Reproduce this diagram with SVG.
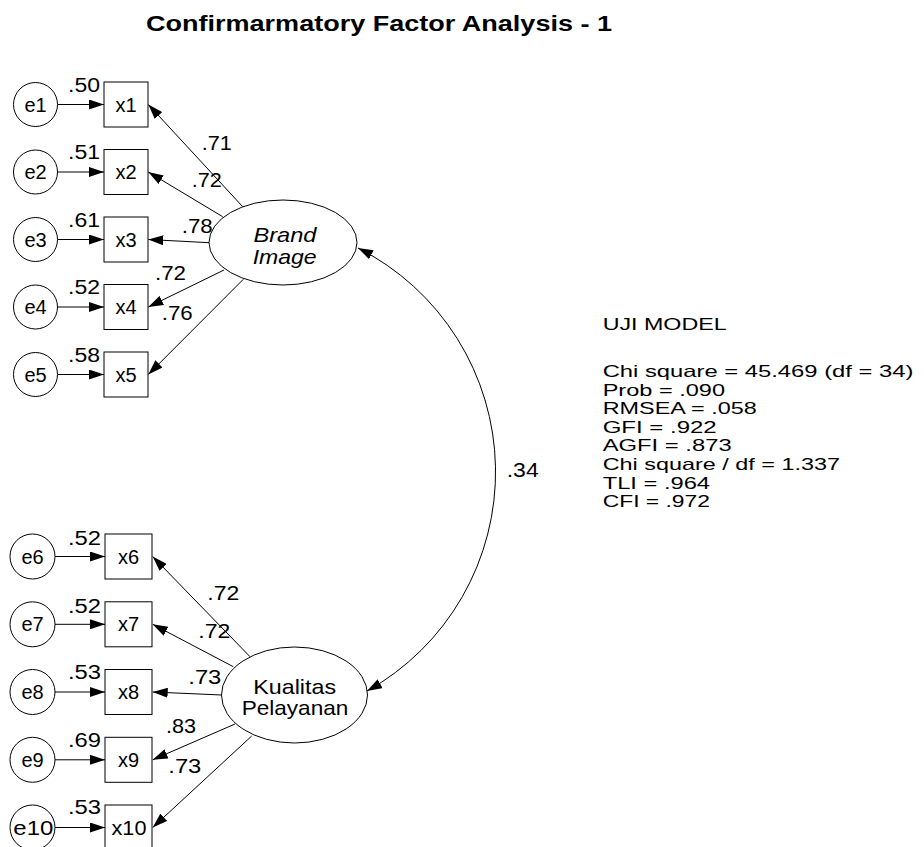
<svg xmlns="http://www.w3.org/2000/svg" width="924" height="847" viewBox="0 0 924 847">
<style>
  text { font-family: "Liberation Sans", Arial, sans-serif; font-size: 20px; fill: #000; }
  .title { font-weight: bold; font-size: 22px; }
  .c { text-anchor: middle; }
  .it { font-style: italic; }
  .lat { font-size: 21px; }
  .st { font-size: 16.5px; }
  .node { fill: #fff; stroke: #000; stroke-width: 1; }
  .edge { fill: none; stroke: #000; stroke-width: 1; marker-end: url(#ah); }
  .cov { fill: none; stroke: #000; stroke-width: 1; marker-start: url(#ah); marker-end: url(#ah); }
</style>
<defs>
  <marker id="ah" viewBox="0 0 15 10" refX="15" refY="5" markerWidth="15" markerHeight="10" markerUnits="userSpaceOnUse" orient="auto-start-reverse">
    <path d="M0,0 L15,5 L0,10 z" fill="#000"/>
  </marker>
</defs>
<rect width="924" height="847" fill="#fff"/>

<text class="title" x="146" y="31" textLength="466" lengthAdjust="spacingAndGlyphs">Confirmarmatory Factor Analysis - 1</text>

<g id="connectors">
  <path class="edge" d="M57.5,104.5 L104,104.5"/>
  <path class="edge" d="M57.5,172 L104,172"/>
  <path class="edge" d="M57.5,239.5 L104,239.5"/>
  <path class="edge" d="M57.5,307 L104,307"/>
  <path class="edge" d="M57.5,374.5 L104,374.5"/>
  <path class="edge" d="M55,556.5 L105,556.5"/>
  <path class="edge" d="M55,624.3 L105,624.3"/>
  <path class="edge" d="M55,692 L105,692"/>
  <path class="edge" d="M55,759.8 L105,759.8"/>
  <path class="edge" d="M55,827.5 L105,827.5"/>
  <path class="edge" d="M242.7,206.7 L148.3,104.5"/>
  <path class="edge" d="M222.7,216.7 L148.3,172"/>
  <path class="edge" d="M209.3,242.7 L148.3,239.5"/>
  <path class="edge" d="M224,270 L148.3,307"/>
  <path class="edge" d="M243.3,279.3 L148.3,374.5"/>
  <path class="edge" d="M250,656.7 L152.7,556.5"/>
  <path class="edge" d="M233.3,666.7 L152.7,624.3"/>
  <path class="edge" d="M221.7,695 L152.7,692"/>
  <path class="edge" d="M235,724 L152.7,759.8"/>
  <path class="edge" d="M251.7,736 L152.7,827.5"/>
  <path class="cov" d="M358,248 A251 251 0 0 1 367,691"/>
  <text x="68" y="91.7" textLength="32" lengthAdjust="spacingAndGlyphs">.50</text>
  <text x="68" y="159.2" textLength="32" lengthAdjust="spacingAndGlyphs">.51</text>
  <text x="68" y="226.7" textLength="32" lengthAdjust="spacingAndGlyphs">.61</text>
  <text x="68" y="294.2" textLength="32" lengthAdjust="spacingAndGlyphs">.52</text>
  <text x="68" y="361.7" textLength="32" lengthAdjust="spacingAndGlyphs">.58</text>
  <text x="68" y="545" textLength="33" lengthAdjust="spacingAndGlyphs">.52</text>
  <text x="68" y="612.7" textLength="33" lengthAdjust="spacingAndGlyphs">.52</text>
  <text x="68" y="679.3" textLength="33" lengthAdjust="spacingAndGlyphs">.53</text>
  <text x="68" y="746.7" textLength="33" lengthAdjust="spacingAndGlyphs">.69</text>
  <text x="68" y="814" textLength="33" lengthAdjust="spacingAndGlyphs">.53</text>
  <text x="201.7" y="150" textLength="30" lengthAdjust="spacingAndGlyphs">.71</text>
  <text x="191.7" y="186.7" textLength="30" lengthAdjust="spacingAndGlyphs">.72</text>
  <text x="181.7" y="232.7" textLength="31" lengthAdjust="spacingAndGlyphs">.78</text>
  <text x="155" y="280" textLength="31" lengthAdjust="spacingAndGlyphs">.72</text>
  <text x="161.7" y="320" textLength="31" lengthAdjust="spacingAndGlyphs">.76</text>
  <text x="207.3" y="600" textLength="32" lengthAdjust="spacingAndGlyphs">.72</text>
  <text x="198.3" y="638.3" textLength="32" lengthAdjust="spacingAndGlyphs">.72</text>
  <text x="188.3" y="684" textLength="33" lengthAdjust="spacingAndGlyphs">.73</text>
  <text x="166" y="733.3" textLength="30" lengthAdjust="spacingAndGlyphs">.83</text>
  <text x="168.3" y="773.3" textLength="33" lengthAdjust="spacingAndGlyphs">.73</text>
  <text x="506.7" y="476.5" textLength="32" lengthAdjust="spacingAndGlyphs">.34</text>
</g>

<g id="e1"><circle class="node" cx="35.5" cy="104.5" r="22"/><text class="c" x="35.5" y="111.5">e1</text></g>
<g id="e2"><circle class="node" cx="35.5" cy="172" r="22"/><text class="c" x="35.5" y="179">e2</text></g>
<g id="e3"><circle class="node" cx="35.5" cy="239.5" r="22"/><text class="c" x="35.5" y="246.5">e3</text></g>
<g id="e4"><circle class="node" cx="35.5" cy="307" r="22"/><text class="c" x="35.5" y="314">e4</text></g>
<g id="e5"><circle class="node" cx="35.5" cy="374.5" r="22"/><text class="c" x="35.5" y="381.5">e5</text></g>

<g id="x1"><rect class="node" x="104" y="82" width="44" height="45"/><text class="c" x="126" y="111.5">x1</text></g>
<g id="x2"><rect class="node" x="104" y="149.5" width="44" height="45"/><text class="c" x="126" y="179">x2</text></g>
<g id="x3"><rect class="node" x="104" y="217" width="44" height="45"/><text class="c" x="126" y="246.5">x3</text></g>
<g id="x4"><rect class="node" x="104" y="284.5" width="44" height="45"/><text class="c" x="126" y="314">x4</text></g>
<g id="x5"><rect class="node" x="104" y="352" width="44" height="45"/><text class="c" x="126" y="381.5">x5</text></g>

<g id="e6"><circle class="node" cx="32.5" cy="556.5" r="22.5"/><text class="c" x="32.5" y="563.5">e6</text></g>
<g id="e7"><circle class="node" cx="32.5" cy="624.3" r="22.5"/><text class="c" x="32.5" y="631.3">e7</text></g>
<g id="e8"><circle class="node" cx="32.5" cy="692" r="22.5"/><text class="c" x="32.5" y="699">e8</text></g>
<g id="e9"><circle class="node" cx="32.5" cy="759.8" r="22.5"/><text class="c" x="32.5" y="766.8">e9</text></g>
<g id="e10"><circle class="node" cx="32.5" cy="827.5" r="22.5"/><text class="c" x="33.3" y="834.5" textLength="40" lengthAdjust="spacingAndGlyphs">e10</text></g>

<g id="x6"><rect class="node" x="105" y="534" width="47" height="45"/><text class="c" x="128.5" y="563.5">x6</text></g>
<g id="x7"><rect class="node" x="105" y="601.8" width="47" height="45"/><text class="c" x="128.5" y="631.3">x7</text></g>
<g id="x8"><rect class="node" x="105" y="669.5" width="47" height="45"/><text class="c" x="128.5" y="699">x8</text></g>
<g id="x9"><rect class="node" x="105" y="737.3" width="47" height="45"/><text class="c" x="128.5" y="766.8">x9</text></g>
<g id="x10"><rect class="node" x="105" y="805" width="47" height="45"/><text class="c" x="129" y="834.5" textLength="35" lengthAdjust="spacingAndGlyphs">x10</text></g>

<g id="brand-image"><ellipse class="node" cx="283" cy="242.5" rx="74" ry="42.5"/>
  <text class="c it lat" x="285" y="241.7" textLength="63" lengthAdjust="spacingAndGlyphs">Brand</text>
  <text class="c it lat" x="284.7" y="264" textLength="64" lengthAdjust="spacingAndGlyphs">Image</text></g>

<g id="kualitas-pelayanan"><ellipse class="node" cx="294.5" cy="695" rx="73" ry="48"/>
  <text class="c lat" x="294.7" y="694.3" textLength="82.7" lengthAdjust="spacingAndGlyphs">Kualitas</text>
  <text class="c lat" x="295" y="715" textLength="106.7" lengthAdjust="spacingAndGlyphs">Pelayanan</text></g>

<g id="uji-model">
  <text class="st" x="602.7" y="330" textLength="124" lengthAdjust="spacingAndGlyphs">UJI MODEL</text>
  <text class="st" x="602.7" y="377" textLength="310.7" lengthAdjust="spacingAndGlyphs">Chi square = 45.469 (df = 34)</text>
  <text class="st" x="602.7" y="395.6" textLength="122.3" lengthAdjust="spacingAndGlyphs">Prob = .090</text>
  <text class="st" x="602.7" y="414.2" textLength="154" lengthAdjust="spacingAndGlyphs">RMSEA = .058</text>
  <text class="st" x="602.7" y="432.8" textLength="114" lengthAdjust="spacingAndGlyphs">GFI = .922</text>
  <text class="st" x="602.7" y="451.4" textLength="129" lengthAdjust="spacingAndGlyphs">AGFI = .873</text>
  <text class="st" x="602.7" y="470" textLength="237.3" lengthAdjust="spacingAndGlyphs">Chi square / df = 1.337</text>
  <text class="st" x="602.7" y="488.6" textLength="107.3" lengthAdjust="spacingAndGlyphs">TLI = .964</text>
  <text class="st" x="602.7" y="507.2" textLength="107.3" lengthAdjust="spacingAndGlyphs">CFI = .972</text>
</g>
</svg>
